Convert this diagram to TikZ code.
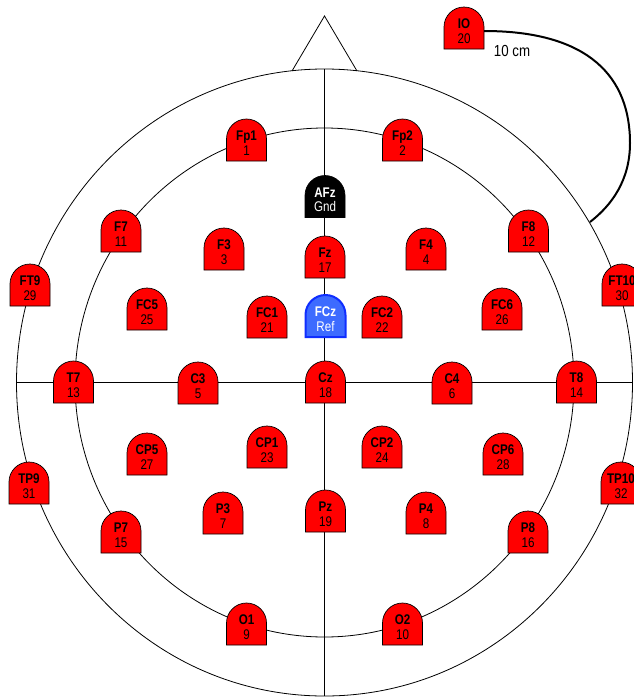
\documentclass[tikz,border=0pt]{standalone}
\usepackage{fontspec}
\setmainfont{Liberation Sans}
\newfontfamily\narrowsans[FakeStretch=0.83]{Liberation Sans}
\usetikzlibrary{calc}
\definecolor{elred}{HTML}{FF0000}
\definecolor{refblue}{HTML}{3D6BFF}
\definecolor{refedge}{HTML}{0F2EFF}
\tikzset{
  head/.style={line width=0.8pt},
  el red/.style={fill=elred,draw=black,line width=0.7pt},
  el gnd/.style={fill=black,draw=black,line width=0.7pt},
  el ref/.style={fill=refblue,draw=refedge,line width=2pt},
  tx red/.style={text=black},
  tx gnd/.style={text=white},
  tx ref/.style={text=white},
  etext/.style={align=center,inner sep=0pt,minimum width=40pt,font=\narrowsans\fontsize{14}{14.5}\selectfont},
  cable/.style={line width=2pt},
}
% electrode: [kind] name, position, label, number
\newcommand{\electrode}[5][red]{%
  \path[el #1] ($(#3)+(-20,18)$) -- ($(#3)+(-20,-4)$) arc[start angle=180,end angle=0,radius=20pt] -- ($(#3)+(20,18)$) -- cycle;
  \node[etext,tx #1] (#2) at (#3) {\textbf{#4}\\#5};
}
\begin{document}
\begin{tikzpicture}[x=1pt,y=-1pt]
  \useasboundingbox (0,0) rectangle (633,697);
  \coordinate (centre) at (324.5,382.5);
  % head outline, nose and the two rings
  \draw[head] (292,71) -- (324.5,16) -- (357,71);
  \draw[head] (centre) ellipse[x radius=308pt,y radius=313.5pt];
  \draw[head] (centre) ellipse[x radius=249.5pt,y radius=254.5pt];
  \draw[head] (324.5,69) -- (324.5,696);
  \draw[head] (16.5,382.5) -- (632.5,382.5);

  \electrode{IO}{464,31}{IO}{20}
  \electrode{Fp1}{246.5,143}{Fp1}{1}
  \electrode{Fp2}{402.5,143}{Fp2}{2}
  \electrode[gnd]{AFz}{325,199.5}{AFz}{Gnd}
  \electrode{F7}{121,234}{F7}{11}
  \electrode{F3}{224,252}{F3}{3}
  \electrode{Fz}{325,260}{Fz}{17}
  \electrode{F4}{426,252}{F4}{4}
  \electrode{F8}{528.5,234}{F8}{12}
  \electrode{FT9}{30,288}{FT9}{29}
  \electrode{FT10}{622,288}{FT10}{30}
  \electrode{FC5}{147,312}{FC5}{25}
  \electrode{FC1}{267,320}{FC1}{21}
  \electrode[ref]{FCz}{325.5,319}{FCz}{Ref}
  \electrode{FC2}{382,320}{FC2}{22}
  \electrode{FC6}{502,312}{FC6}{26}
  \electrode{T7}{73.5,385}{T7}{13}
  \electrode{C3}{198,386}{C3}{5}
  \electrode{Cz}{325.5,385}{Cz}{18}
  \electrode{C4}{452,386}{C4}{6}
  \electrode{T8}{576.5,385}{T8}{14}
  \electrode{CP5}{147,457}{CP5}{27}
  \electrode{CP1}{267,450}{CP1}{23}
  \electrode{CP2}{382,450}{CP2}{24}
  \electrode{CP6}{503,457}{CP6}{28}
  \electrode{TP9}{29,486}{TP9}{31}
  \electrode{TP10}{621,486}{TP10}{32}
  \electrode{P3}{223,516}{P3}{7}
  \electrode{Pz}{325.5,514}{Pz}{19}
  \electrode{P4}{426,516}{P4}{8}
  \electrode{P7}{121,535}{P7}{15}
  \electrode{P8}{528,535}{P8}{16}
  \electrode{O1}{246.5,627}{O1}{9}
  \electrode{O2}{402.5,627}{O2}{10}

  % cable from IO to the outer ring
  \coordinate (cableend) at (590,222);
  \draw[cable] (IO.east) .. controls (590,31) and (630,78) .. (630,143) .. controls (630,180) and (612,205) .. (cableend);
  \node[font=\narrowsans\fontsize{16}{18}\selectfont] (cablelen) at (512,51) {10 cm};
\end{tikzpicture}
\end{document}
